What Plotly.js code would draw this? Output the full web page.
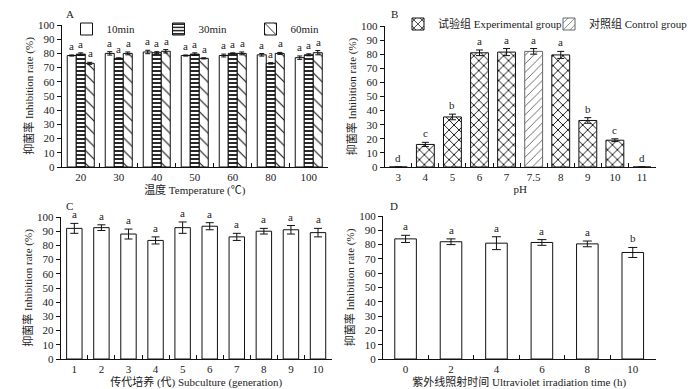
<!DOCTYPE html>
<html><head><meta charset="utf-8">
<script src="https://cdn.plot.ly/plotly-3.0.1.min.js"></script>
<style>html,body{margin:0;padding:0;background:#fff}#chart{width:700px;height:389px}</style>
</head><body><div id="chart"></div>
<script>
// ---- Panel A: temperature ----
const tempCats = ['20','30','40','50','60','80','100'];
const a10 = [78.5,80,81,78.5,78.5,79,77];
const a10Err = [0.4,1.2,1.2,0.4,1.0,0.9,1.2];
const a30 = [79.5,76.5,80.5,79.5,80,73,79];
const a30Err = [0.9,0.4,0.7,0.9,0.4,0.5,0.7];
const a60 = [73,80,81.5,76.5,80,80,80.5];
const a60Err = [0.7,1.0,1.2,0.4,1.0,0.7,1.5];
const aLetters = ['a','a','a','a','a','a','a'];
const aSeriesNames = ['10min','30min','60min'];

// ---- Panel B: pH ----
const phCats = ['3','4','5','6','7','7.5','8','9','10','11'];
const expVals = [0,16,35.5,81,81.5,null,79.5,33,19,0];
const expErr = [0,1.5,2,2,2.5,null,2.5,2,1,0];
const ctrlCats = ['7.5'];
const ctrlVals = [82];
const ctrlErr = [2];
const phLetters = ['d','c','b','a','a','a','a','b','c','d'];
const bSeriesNames = ['试验组 Experimental group','对照组 Control group'];

// ---- Panel C: subculture ----
const genCats = ['1','2','3','4','5','6','7','8','9','10'];
const genVals = [92,92.5,88,83.5,92.5,93.5,86,90,91,89];
const genErr = [3.5,2,3.5,2.5,4,2.5,2.5,2,3,3];
const genLetters = ['a','a','a','a','a','a','a','a','a','a'];

// ---- Panel D: UV ----
const uvCats = ['0','2','4','6','8','10'];
const uvVals = [84,82,81,81.5,80.5,74.5];
const uvErr = [2.5,2,4.5,2,2,3.5];
const uvLetters = ['a','a','a','a','a','b'];

const FONT = '"Liberation Serif", "Noto Sans CJK SC", serif';
const W = 700, H = 389;
const dom = {
  A: {x:[65,345], y:[167,25]},
  B: {x:[405,690], y:[167,26]},
  C: {x:[64,349], y:[359,217]},
  D: {x:[403,690], y:[359,216]}
};
function xd(p){return [p.x[0]/W, p.x[1]/W];}
function yd(p){return [1-p.y[0]/H, 1-p.y[1]/H];}

function eb(arr, w){return {type:'data', array:arr, visible:true, color:'#111', thickness:1, width:w};}
const line = {color:'#111', width:1};

const aW = 0.237;
const aOffsets = [-1.5*aW, -0.5*aW, 0.5*aW];
const aPats = [
  {shape:'', fillmode:'replace'},
  {shape:'-', size:4, solidity:0.45, fgcolor:'#111', bgcolor:'#fff', fillmode:'replace'},
  {shape:'\\', size:9, solidity:0.12, fgcolor:'#111', bgcolor:'#fff', fillmode:'replace'}
];
const aVals = [a10,a30,a60], aErrs = [a10Err,a30Err,a60Err];
const traces = [];
for (let k=0;k<3;k++){
  traces.push({type:'bar', x:tempCats, y:aVals[k], name:aSeriesNames[k], xaxis:'x', yaxis:'y',
    width:aW, offset:aOffsets[k], error_y:eb(aErrs[k],2.5),
    marker:{color:'#fff', line:line, pattern:aPats[k]}, legend:'legend'});
}
traces.push({type:'bar', x:phCats, y:expVals, name:bSeriesNames[0], xaxis:'x2', yaxis:'y2',
  width:0.66, error_y:eb(expErr,3.5),
  marker:{color:'#fff', line:line, pattern:{shape:'x', size:7, solidity:0.25, fgcolor:'#111', bgcolor:'#fff', fillmode:'replace'}}, legend:'legend2'});
traces.push({type:'bar', x:ctrlCats, y:ctrlVals, name:bSeriesNames[1], xaxis:'x2', yaxis:'y2',
  width:0.66, error_y:eb(ctrlErr,3.5),
  marker:{color:'#fff', line:{color:'#666',width:1}, pattern:{shape:'/', size:6, solidity:0.12, fgcolor:'#333', bgcolor:'#fff', fillmode:'replace'}}, legend:'legend2'});
traces.push({type:'bar', x:genCats, y:genVals, xaxis:'x3', yaxis:'y3', width:0.57, showlegend:false,
  error_y:eb(genErr,4), marker:{color:'#fff', line:line}});
traces.push({type:'bar', x:uvCats, y:uvVals, xaxis:'x4', yaxis:'y4', width:0.475, showlegend:false,
  error_y:eb(uvErr,4.5), marker:{color:'#fff', line:line}});

const ann = [];
// letters placed by category index (annotation x on category axes = serial number)
function letters(xref, yref, allCats, cats, vals, errs, txt, shift){
  for (let i=0;i<cats.length;i++){
    if (vals[i]===null) continue;
    ann.push({x:allCats.indexOf(cats[i]), y:vals[i]+(errs[i]||0), xref:xref, yref:yref, text:txt[i], showarrow:false,
      yanchor:'bottom', xshift:shift||0, yshift:1, font:{family:FONT,size:11,color:'#222'}});
  }
}
const aCatPx = (dom.A.x[1]-dom.A.x[0])/tempCats.length;
for (let k=0;k<3;k++){
  letters('x','y',tempCats,tempCats,aVals[k],aErrs[k],aLetters,(aOffsets[k]+aW/2)*aCatPx);
}
letters('x2','y2',phCats,phCats,expVals,expErr,phLetters,0);
letters('x2','y2',phCats,ctrlCats,ctrlVals,ctrlErr,[phLetters[phCats.indexOf('7.5')]],0);
letters('x3','y3',genCats,genCats,genVals,genErr,genLetters,0);
letters('x4','y4',uvCats,uvCats,uvVals,uvErr,uvLetters,0);
const panelLabels = [['A',74,14],['B',415,14],['C',73,206],['D',415,206]];
panelLabels.forEach(p=>ann.push({text:p[0], x:p[1]/W, y:1-p[2]/H, xref:'paper', yref:'paper', showarrow:false,
  xanchor:'center', yanchor:'middle', font:{family:FONT,size:11,color:'#222'}}));

function xax(p, title, anchor, cats){
  return {domain:xd(p), anchor:anchor, type:'category', range:[-0.5, cats.length-0.5], autorange:false,
    showline:true, linecolor:'#111', linewidth:1,
    ticks:'inside', ticklen:4, tickcolor:'#111', tickson:'boundaries', showgrid:false, zeroline:false,
    tickfont:{family:FONT,size:11,color:'#222'}, automargin:false,
    title:{text:title, font:{family:FONT,size:11,color:'#222'}, standoff:1}};
}
function yax(p, anchor){
  return {domain:yd(p), anchor:anchor, range:[0,100], autorange:false, dtick:10, showline:true, linecolor:'#111', linewidth:1,
    ticks:'outside', ticklen:4, tickcolor:'#111', showgrid:false, zeroline:false,
    tickfont:{family:FONT,size:11,color:'#222'}, automargin:false,
    title:{text:'抑菌率 Inhibition rate (%)', font:{family:FONT,size:11,color:'#222'}, standoff:2}};
}

const layout = {
  width:W, height:H, margin:{l:0,r:0,t:0,b:0}, paper_bgcolor:'#fff', plot_bgcolor:'#fff',
  barmode:'overlay', font:{family:FONT,size:11,color:'#222'},
  xaxis:xax(dom.A,'温度 Temperature (℃)','y',tempCats), yaxis:yax(dom.A,'x'),
  xaxis2:xax(dom.B,'pH','y2',phCats), yaxis2:yax(dom.B,'x2'),
  xaxis3:xax(dom.C,'传代培养 (代) Subculture (generation)','y3',genCats), yaxis3:yax(dom.C,'x3'),
  xaxis4:xax(dom.D,'紫外线照射时间 Ultraviolet irradiation time (h)','y4',uvCats), yaxis4:yax(dom.D,'x4'),
  legend:{orientation:'h', x:70/W, y:1-29/H, xanchor:'left', yanchor:'middle', entrywidth:47,
    font:{family:FONT,size:11,color:'#222'}, bgcolor:'rgba(0,0,0,0)', itemwidth:30, traceorder:'normal'},
  legend2:{orientation:'h', x:419/W, y:1-24/H, xanchor:'left', yanchor:'middle', entrywidth:106,
    font:{family:FONT,size:11,color:'#222'}, bgcolor:'rgba(0,0,0,0)', itemwidth:30, traceorder:'normal'},
  annotations:ann, showlegend:true
};
Plotly.newPlot('chart', traces, layout, {displayModeBar:false, staticPlot:true});
</script></body></html>
